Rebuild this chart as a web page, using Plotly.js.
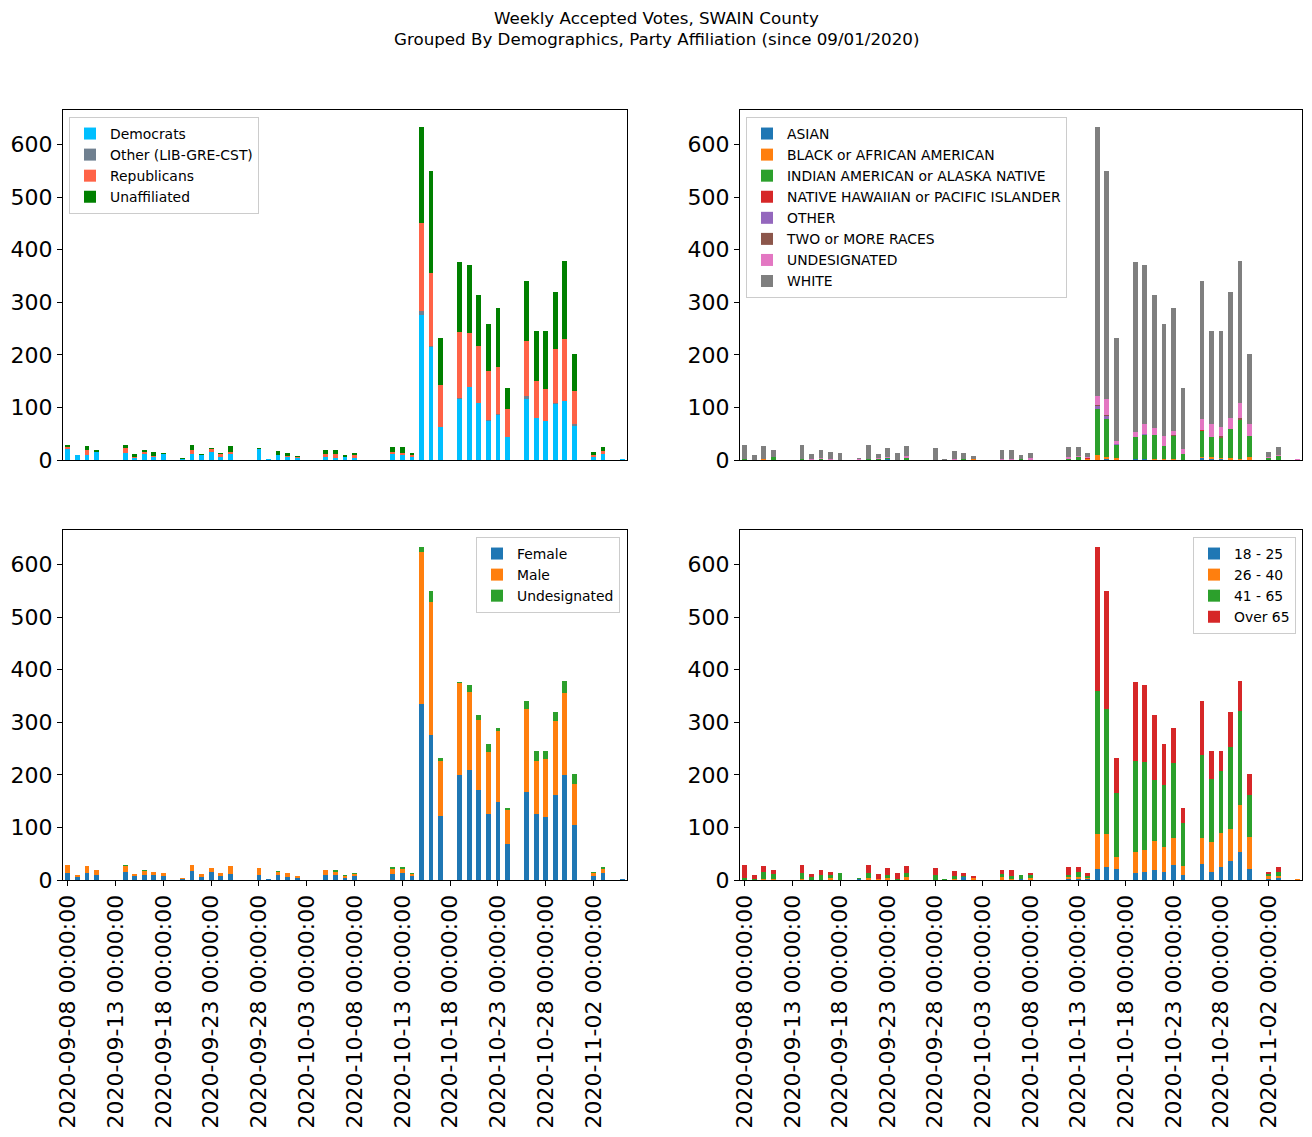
<!DOCTYPE html>
<html>
<head>
<meta charset="utf-8">
<script src="https://cdn.plot.ly/plotly-3.0.1.min.js"></script>
<style>html,body{margin:0;padding:0;background:#fff;}#chart{width:1312px;height:1137px;}</style>
</head>
<body>
<div id="chart"></div>
<script>
// ---- categories (daily) ----
const dates = [
 "2020-09-08","2020-09-09","2020-09-10","2020-09-11","2020-09-12","2020-09-13","2020-09-14","2020-09-15","2020-09-16","2020-09-17",
 "2020-09-18","2020-09-19","2020-09-20","2020-09-21","2020-09-22","2020-09-23","2020-09-24","2020-09-25","2020-09-26","2020-09-27",
 "2020-09-28","2020-09-29","2020-09-30","2020-10-01","2020-10-02","2020-10-03","2020-10-04","2020-10-05","2020-10-06","2020-10-07",
 "2020-10-08","2020-10-09","2020-10-10","2020-10-11","2020-10-12","2020-10-13","2020-10-14","2020-10-15","2020-10-16","2020-10-17",
 "2020-10-18","2020-10-19","2020-10-20","2020-10-21","2020-10-22","2020-10-23","2020-10-24","2020-10-25","2020-10-26","2020-10-27",
 "2020-10-28","2020-10-29","2020-10-30","2020-10-31","2020-11-01","2020-11-02","2020-11-03","2020-11-04","2020-11-05"];
const tickDates = ["2020-09-08","2020-09-13","2020-09-18","2020-09-23","2020-09-28","2020-10-03","2020-10-08","2020-10-13","2020-10-18","2020-10-23","2020-10-28","2020-11-02"];
const tickLabels = ["2020-09-08 00:00:00","2020-09-13 00:00:00","2020-09-18 00:00:00","2020-09-23 00:00:00","2020-09-28 00:00:00","2020-10-03 00:00:00","2020-10-08 00:00:00","2020-10-13 00:00:00","2020-10-18 00:00:00","2020-10-23 00:00:00","2020-10-28 00:00:00","2020-11-02 00:00:00"];
const titleLines = ["Weekly Accepted Votes, SWAIN County", "Grouped By Demographics, Party Affiliation (since 09/01/2020)"];

// ---- party affiliation ----
const democrats = [20,10,9,15,0,0,13,4,12,6, 12,0,1,12,9,16,6,12,0,0, 20,2,9,6,4,0,0,6,4,6, 4,0,0,0,12,9,6,276,215,63, 0,116,138,109,75,86,44,0,116,80, 74,107,112,65,0,5,12,0,2];
const otherParty = [0,0,0,0,0,0,0,0,0,0, 0,0,0,0,0,0,0,0,0,0, 0,0,0,0,0,0,0,0,0,0, 0,0,0,0,0,0,0,7,1,0, 0,1,0,0,2,2,0,0,5,0, 1,1,0,4,0,0,0,0,0];
const republicans = [4,0,10,0,0,0,10,2,4,2, 0,0,0,7,0,4,6,4,0,0, 0,0,0,2,2,0,0,5,7,0, 5,0,0,0,3,5,4,167,140,80, 0,127,104,108,93,89,53,0,106,70, 60,103,118,62,0,5,6,0,0];
const unaffiliated = [5,0,8,4,0,0,6,6,3,7, 2,0,3,10,3,3,2,11,0,0, 3,0,8,6,2,0,0,8,8,4, 5,0,0,0,9,11,4,184,194,89, 0,133,128,97,89,113,40,0,114,96, 111,109,149,71,0,6,6,0,0];

// ---- race ----
const asian = [0,0,0,0,0,0,0,0,0,0, 0,0,0,0,0,1,0,0,0,0, 0,0,0,0,0,0,0,0,0,0, 0,0,0,0,0,0,0,0,2,0, 0,2,2,0,0,0,0,0,4,2, 2,0,0,0,0,0,0,0,0];
const black = [0,0,2,0,0,0,0,0,0,0, 0,0,0,0,0,0,0,0,0,0, 0,0,0,0,2,0,0,0,0,0, 0,0,0,0,0,0,2,10,4,4, 0,0,0,2,2,2,0,0,2,4, 2,4,2,6,0,0,0,0,0];
const indian = [2,0,0,5,0,0,2,0,1,0, 0,0,0,2,1,2,0,4,0,0, 0,0,0,2,0,0,0,0,0,1, 0,0,0,0,2,6,0,87,72,24, 0,42,46,46,25,44,12,0,49,38, 37,55,75,40,0,4,7,0,0];
const hawaiian = [0,0,0,0,0,0,0,0,0,0, 0,0,0,0,0,0,0,0,0,0, 0,0,0,0,0,0,0,0,0,0, 0,0,0,0,0,0,1,0,0,0, 0,0,0,0,0,0,0,0,2,0, 0,0,0,0,0,0,0,0,0];
const otherRace = [0,0,0,0,0,0,0,0,0,0, 0,0,0,0,0,1,0,0,0,0, 0,0,0,0,0,0,0,0,0,0, 0,0,0,0,0,0,0,6,6,2, 0,0,2,0,0,0,0,0,0,0, 0,0,0,0,0,0,0,0,0];
const twoRaces = [0,0,0,0,0,0,0,0,0,0, 0,0,0,0,0,0,0,0,0,0, 0,0,0,0,0,0,0,0,0,0, 0,0,0,0,0,0,0,2,2,0, 0,0,0,0,0,2,0,0,0,0, 5,0,2,0,0,0,0,0,0];
const undesRace = [0,0,0,1,0,0,0,2,3,2, 0,0,2,0,3,2,0,4,0,0, 0,0,2,0,0,0,0,2,2,1, 3,0,0,0,4,2,3,17,30,6, 0,9,19,13,19,7,9,0,21,25, 17,21,29,23,0,2,2,0,2];
const white = [27,10,25,13,0,0,27,10,15,13, 14,0,2,27,8,17,14,19,0,0, 23,2,15,12,6,0,0,17,17,8, 11,0,0,0,18,17,8,512,434,196, 0,324,301,253,213,235,116,0,263,177, 183,240,271,133,0,10,15,0,0];

// ---- gender ----
const female = [13,6,13,9,0,0,15,8,9,9, 8,0,2,17,6,15,8,11,0,0, 9,2,9,6,4,0,0,9,9,4, 8,0,0,0,12,14,8,334,276,122, 0,199,210,172,126,149,69,0,168,126, 119,162,200,105,0,8,14,0,2];
const male = [16,4,14,10,0,0,12,4,8,6, 6,0,2,12,6,8,6,16,0,0, 14,0,6,8,4,0,0,10,6,4, 4,0,0,0,8,6,4,289,252,105, 0,175,148,133,118,135,65,0,158,101, 112,140,156,78,0,5,6,0,0];
const undesGender = [0,0,0,0,0,0,2,0,2,0, 0,0,0,0,0,0,0,0,0,0, 0,0,2,0,0,0,0,0,4,2, 2,0,0,0,4,5,2,11,22,5, 0,3,12,9,15,6,3,0,15,19, 15,18,23,19,0,3,4,0,0];

// ---- age ----
const age18_25 = [0,0,0,0,0,0,0,0,0,0, 0,0,2,0,0,0,0,0,0,0, 0,0,0,6,0,0,0,0,0,2, 0,0,0,0,2,2,2,21,25,21, 0,14,16,19,16,29,9,0,31,16, 25,36,54,21,0,2,4,0,0];
const age26_40 = [0,0,2,2,0,0,2,0,0,4, 0,0,0,4,2,4,0,6,0,0, 0,0,2,0,3,0,0,6,2,0, 4,0,0,0,4,4,2,67,63,23, 0,40,42,56,47,50,18,0,48,57, 65,61,88,60,0,6,4,0,2];
const age41_65 = [4,1,13,10,0,0,11,6,10,6, 13,0,2,9,0,6,1,7,0,0, 10,2,6,2,1,0,0,6,6,8, 6,0,0,0,4,10,4,271,238,122, 0,173,167,116,117,144,82,0,158,120, 118,156,180,81,0,3,8,0,0];
const ageOver65 = [25,9,12,7,0,0,16,6,9,5, 1,0,0,16,10,13,13,14,0,0, 13,0,9,6,4,0,0,7,11,0, 4,0,0,0,14,9,6,275,224,66, 0,150,145,123,79,67,28,0,104,53, 38,67,57,40,0,5,8,0,0];

// ---- build traces ----
function bars(name, values, color, xa, ya, leg) {
  return {type:'bar', name:name, x:dates, y:values, xaxis:xa, yaxis:ya, legend:leg,
          width:0.5, marker:{color:color, line:{width:0}}, hoverinfo:'x+y+name'};
}
const tab = ['#1f77b4','#ff7f0e','#2ca02c','#d62728','#9467bd','#8c564b','#e377c2','#7f7f7f'];
const traces = [
  bars('Democrats', democrats, '#00bfff', 'x', 'y', 'legend'),
  bars('Other (LIB-GRE-CST)', otherParty, '#708090', 'x', 'y', 'legend'),
  bars('Republicans', republicans, '#ff6347', 'x', 'y', 'legend'),
  bars('Unaffiliated', unaffiliated, '#008000', 'x', 'y', 'legend'),

  bars('ASIAN', asian, tab[0], 'x2', 'y2', 'legend2'),
  bars('BLACK or AFRICAN AMERICAN', black, tab[1], 'x2', 'y2', 'legend2'),
  bars('INDIAN AMERICAN or ALASKA NATIVE', indian, tab[2], 'x2', 'y2', 'legend2'),
  bars('NATIVE HAWAIIAN or PACIFIC ISLANDER', hawaiian, tab[3], 'x2', 'y2', 'legend2'),
  bars('OTHER', otherRace, tab[4], 'x2', 'y2', 'legend2'),
  bars('TWO or MORE RACES', twoRaces, tab[5], 'x2', 'y2', 'legend2'),
  bars('UNDESIGNATED', undesRace, tab[6], 'x2', 'y2', 'legend2'),
  bars('WHITE', white, tab[7], 'x2', 'y2', 'legend2'),

  bars('Female', female, tab[0], 'x3', 'y3', 'legend3'),
  bars('Male', male, tab[1], 'x3', 'y3', 'legend3'),
  bars('Undesignated', undesGender, tab[2], 'x3', 'y3', 'legend3'),

  bars('18 - 25', age18_25, tab[0], 'x4', 'y4', 'legend4'),
  bars('26 - 40', age26_40, tab[1], 'x4', 'y4', 'legend4'),
  bars('41 - 65', age41_65, tab[2], 'x4', 'y4', 'legend4'),
  bars('Over 65', ageOver65, tab[3], 'x4', 'y4', 'legend4')
];

const W = 1312, H = 1137;
const fx = p => p / W;
const fy = p => 1 - p / H;

function xax(l, r, anchor, labels) {
  return {domain:[fx(l), fx(r)], anchor:anchor, type:'category', categoryorder:'array', categoryarray:dates,
    range:[-0.5, dates.length - 0.5], tickmode:'array', tickvals:tickDates, ticktext:tickLabels,
    showticklabels:labels, tickangle:-90, ticks:labels ? 'outside' : '', ticklen:5, tickwidth:1, tickcolor:'#000',
    showline:true, mirror:true, linecolor:'#000', linewidth:1, showgrid:false, zeroline:false,
    tickfont:{size:22, color:'#000'}, fixedrange:true};
}
function yax(top, bottom, anchor) {
  return {domain:[fy(bottom), fy(top)], anchor:anchor, range:[0, 665.7], tickmode:'array',
    tickvals:[0,100,200,300,400,500,600], ticks:'outside', ticklen:5, tickwidth:1, tickcolor:'#000',
    showline:true, mirror:true, linecolor:'#000', linewidth:1, showgrid:false, zeroline:false,
    tickfont:{size:22, color:'#000'}, fixedrange:true};
}
function leg(x, y, xanchor) {
  return {x:x, y:y, xanchor:xanchor, yanchor:'top', xref:'paper', yref:'paper', traceorder:'normal',
    bgcolor:'rgba(255,255,255,0.8)', bordercolor:'#cccccc', borderwidth:1,
    font:{size:13.9, color:'#000'}, itemwidth:30, tracegroupgap:0};
}

const layout = {
  width:W, height:H, margin:{l:0, r:0, t:0, b:0},
  paper_bgcolor:'#fff', plot_bgcolor:'#fff',
  font:{family:'DejaVu Sans, sans-serif', color:'#000'},
  barmode:'stack', bargap:0.5,
  annotations:[
    {text:titleLines[0], xref:'paper', yref:'paper', x:0.5, y:fy(18), xanchor:'center', yanchor:'middle', showarrow:false, font:{size:16.7, color:'#000'}},
    {text:titleLines[1], xref:'paper', yref:'paper', x:0.5, y:fy(39), xanchor:'center', yanchor:'middle', showarrow:false, font:{size:16.7, color:'#000'}}
  ],
  xaxis:  xax(63, 627, 'y', false),
  yaxis:  yax(110, 460, 'x'),
  xaxis2: xax(740, 1302, 'y2', false),
  yaxis2: yax(110, 460, 'x2'),
  xaxis3: xax(63, 627, 'y3', true),
  yaxis3: yax(530, 880, 'x3'),
  xaxis4: xax(740, 1302, 'y4', true),
  yaxis4: yax(530, 880, 'x4'),
  legend:  leg(fx(69), fy(117), 'left'),
  legend2: leg(fx(746), fy(117), 'left'),
  legend3: leg(fx(620), fy(537), 'right'),
  legend4: leg(fx(1296), fy(537), 'right'),
  showlegend:true
};

Plotly.newPlot('chart', traces, layout, {staticPlot:true, displayModeBar:false});
</script>
</body>
</html>
